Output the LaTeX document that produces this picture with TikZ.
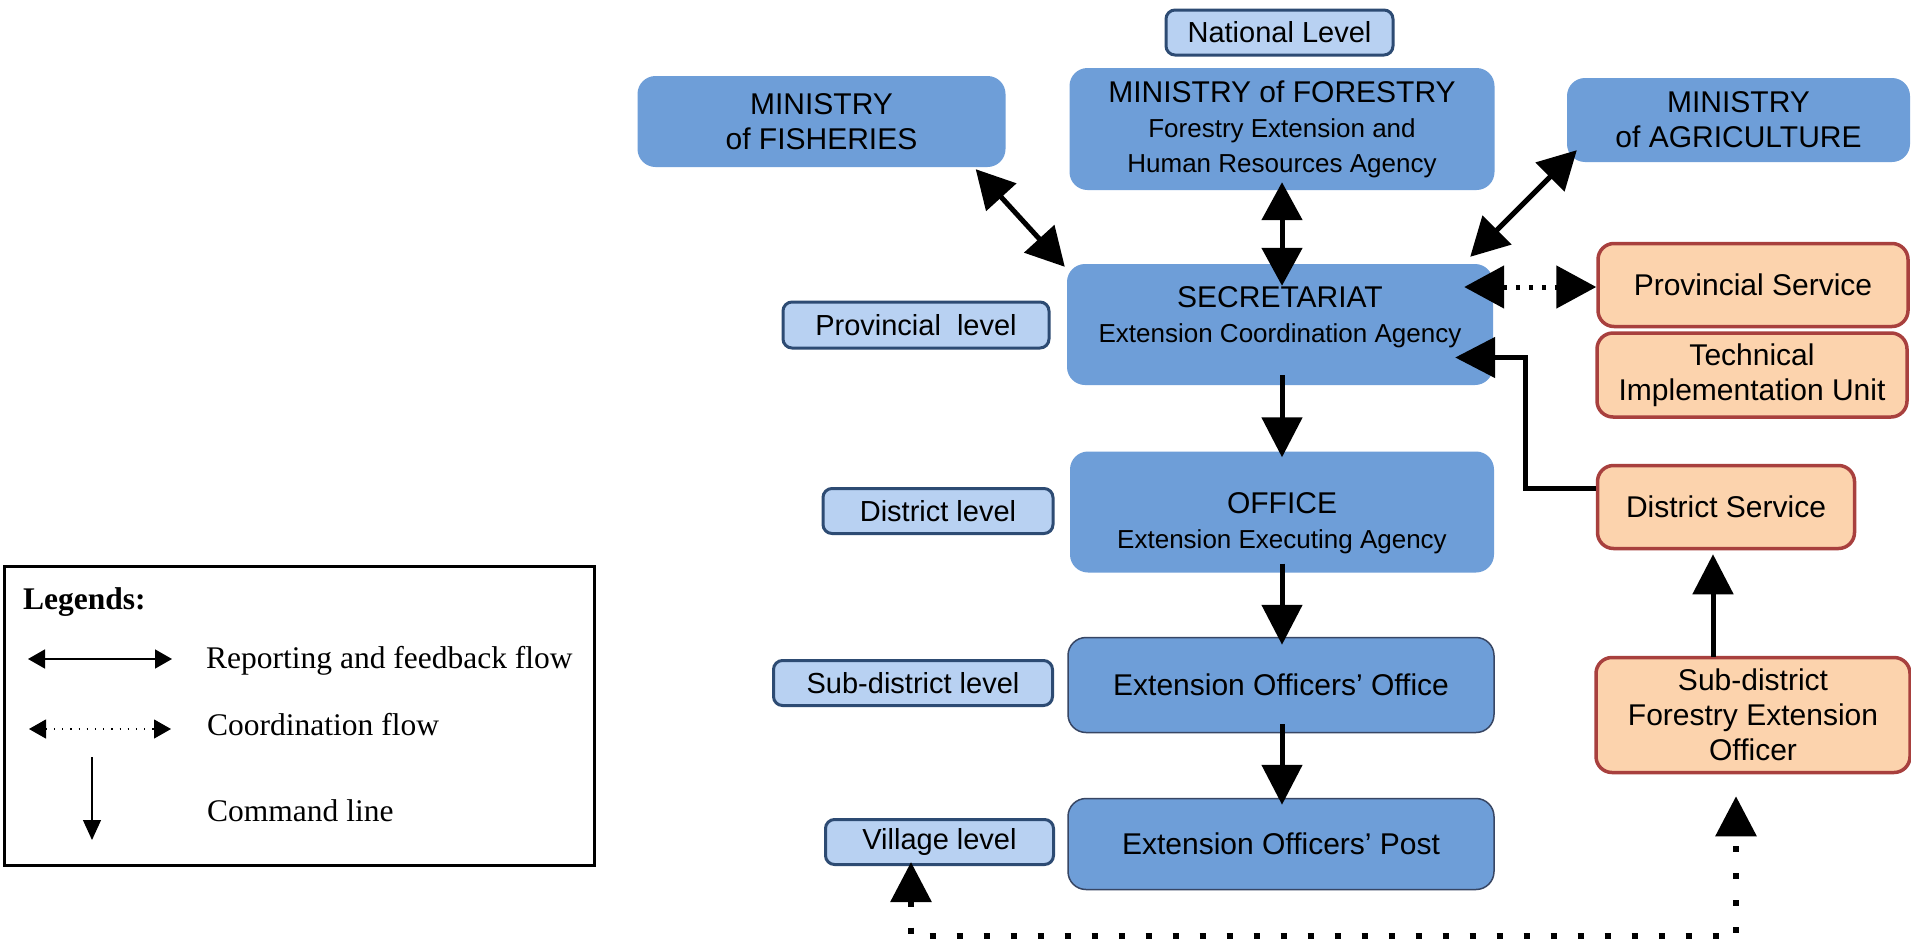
\documentclass[tikz,border=0pt]{standalone}
\usepackage{fontspec}
\setmainfont{Liberation Sans}
\newfontfamily\legfont{Liberation Serif}
\usetikzlibrary{arrows.meta,calc}
\definecolor{boxblue}{RGB}{110,158,216}
\definecolor{lvlfill}{RGB}{184,209,242}
\definecolor{lvldraw}{RGB}{45,75,115}
\definecolor{orfill}{RGB}{252,211,173}
\definecolor{ordraw}{RGB}{168,64,62}
\definecolor{bordgrey}{RGB}{55,70,100}
\newcommand\mainfnt{\fontsize{30}{35}\selectfont}
\newcommand\sublinefnt{\fontsize{26}{35}\selectfont}
\begin{document}
\begin{tikzpicture}[x=1pt,y=-1pt,
 mainbox/.style={rectangle, rounded corners=18pt, fill=boxblue, align=center, font=\mainfnt, inner sep=0pt},
 eobox/.style={mainbox, draw=bordgrey, line width=1.5pt},
 lvl/.style={rectangle, rounded corners=9pt, fill=lvlfill, draw=lvldraw, line width=3pt, font=\fontsize{29}{34}\selectfont, inner sep=0pt},
 orbox/.style={rectangle, rounded corners=16pt, fill=orfill, draw=ordraw, line width=3.5pt, align=center, font=\mainfnt, inner sep=0pt},
 rep/.style={line width=5pt, {Triangle[length=38pt,width=40pt]}-{Triangle[length=38pt,width=40pt]}},
 cmd/.style={line width=5pt, -{Triangle[length=40pt,width=40pt]}},
 dotrep/.style={line width=5pt, dash pattern=on 4pt off 9pt, {Triangle[length=40pt,width=42pt]}-{Triangle[length=40pt,width=42pt]}},
 dotline/.style={line width=6pt, dash pattern=on 6pt off 21pt, {Triangle[length=40pt,width=40pt]}-{Triangle[length=40pt,width=40pt]}},
 legtext/.style={anchor=west, inner sep=0pt, font=\legfont\fontsize{31.5}{36}\selectfont},
 ]
\useasboundingbox (0,0) rectangle (1911,945);
\fill[white] (0,0) rectangle (1911,945);

% level labels
\node[lvl, minimum width=227pt, minimum height=45pt] (natlev) at (1279.5,32.5) {National Level};
\node[lvl, minimum width=266pt, minimum height=46pt] (provlev) at (916,325) {Provincial\ \ level};
\node[lvl, minimum width=230pt, minimum height=45pt] (distlev) at (938,511) {District level};
\node[lvl, minimum width=279pt, minimum height=45pt] (subdistlev) at (913,683) {Sub-district level};
\node[lvl, minimum width=228pt, minimum height=45pt] (villev) at (939.5,842) {Village level};

% main blue boxes
\node[mainbox, minimum width=368pt, minimum height=91pt] (fish) at (821.5,121.5) {MINISTRY\\of FISHERIES};
\node[mainbox, minimum width=425pt, minimum height=122pt] (forest) at (1282,129)
  {MINISTRY of FORESTRY\\{\sublinefnt Forestry Extension and}\\{\sublinefnt Human Resources Agency}};
\node[mainbox, minimum width=343pt, minimum height=84pt] (agri) at (1738.5,120) {MINISTRY\\of AGRICULTURE};
\node[mainbox, minimum width=426pt, minimum height=121pt] (sec) at (1280,324.5)
  {SECRETARIAT\\{\sublinefnt Extension Coordination Agency\rule[-19pt]{0pt}{0pt}}};
\node[mainbox, minimum width=424pt, minimum height=121pt] (office) at (1282,512)
  {\rule{0pt}{43pt}OFFICE\\{\sublinefnt Extension Executing Agency}};
\node[eobox, minimum width=426pt, minimum height=95pt] (eoo) at (1281,685) {Extension Officers’ Office};
\node[eobox, minimum width=426pt, minimum height=91pt] (eop) at (1281,844) {Extension Officers’ Post};

% orange boxes
\node[orbox, minimum width=310pt, minimum height=83pt] (provserv) at (1753,285) {Provincial Service};
\node[orbox, minimum width=310pt, minimum height=84pt] (tiu) at (1752,375) {Technical\\Implementation Unit};
\node[orbox, minimum width=257pt, minimum height=83pt] (distserv) at (1726,507) {District Service};
\node[orbox, minimum width=314pt, minimum height=115pt] (sdfeo) at (1753,715)
  {Sub-district\\Forestry Extension\\Officer};

% connectors
\draw[rep] ($(fish.south east)+(-30,2)$) -- ($(sec.north west)+(-2,3)$);
\draw[rep] ($(forest.south)+(0,-8)$) -- ($(forest.south |- sec.north)+(0,22)$);
\draw[rep] ($(agri.south west)+(10,-12)$) -- ($(sec.north east)+(-23,-7)$);
\draw[dotrep] ($(sec.east |- provserv.west)+(-29,2)$) -- ($(provserv.west)+(0,2)$);
\draw[cmd] ($(distserv.west)+(0,-19)$) -- ++(-70,0) |- ($(sec.east)+(-38,33)$);
\draw[cmd] ($(sec.south)+(2,-10)$) -- ($(office.north)+(0,6)$);
\draw[cmd] ($(office.south)+(0,-9)$) -- ($(office.south |- eoo.north)+(0,8)$);
\draw[cmd] ($(eoo.south)+(1,-9)$) -- ($(eoo.south |- eop.north)+(1,7)$);
\draw[cmd] ($(sdfeo.north)+(-40,1)$) -- ($(distserv.south)+(-13,4)$);
\draw[dotline] ($(villev.south)+(-28.5,-4)$) -- ++(0,74) -| ($(sdfeo.south)+(-17,22)$);

% legend
\node[draw, line width=3pt, minimum width=590pt, minimum height=299pt, inner sep=0pt, anchor=north west] (legend) at (3,565) {};
\node[legtext] (legtitle) at (23,602) {\bfseries Legends:};
\coordinate (la1) at (28,659);
\coordinate (la2) at (172,659);
\coordinate (lb1) at (29,729);
\coordinate (lb2) at (171,729);
\coordinate (lc1) at (92,757);
\coordinate (lc2) at (92,840);
\draw[line width=1.5pt, {Triangle[length=17pt,width=19pt]}-{Triangle[length=17pt,width=19pt]}] (la1) -- (la2);
\draw[line width=1.2pt, dash pattern=on 1.2pt off 7pt, {Triangle[length=17pt,width=19pt]}-{Triangle[length=17pt,width=19pt]}] (lb1) -- (lb2);
\draw[line width=1.2pt, -{Triangle[length=20pt,width=18pt]}] (lc1) -- (lc2);
\node[legtext] (legrep) at (206,661) {Reporting and feedback flow};
\node[legtext] (legcoord) at (207,725) {Coordination flow};
\node[legtext] (legcmd) at (207,811) {Command line};
\end{tikzpicture}
\end{document}
